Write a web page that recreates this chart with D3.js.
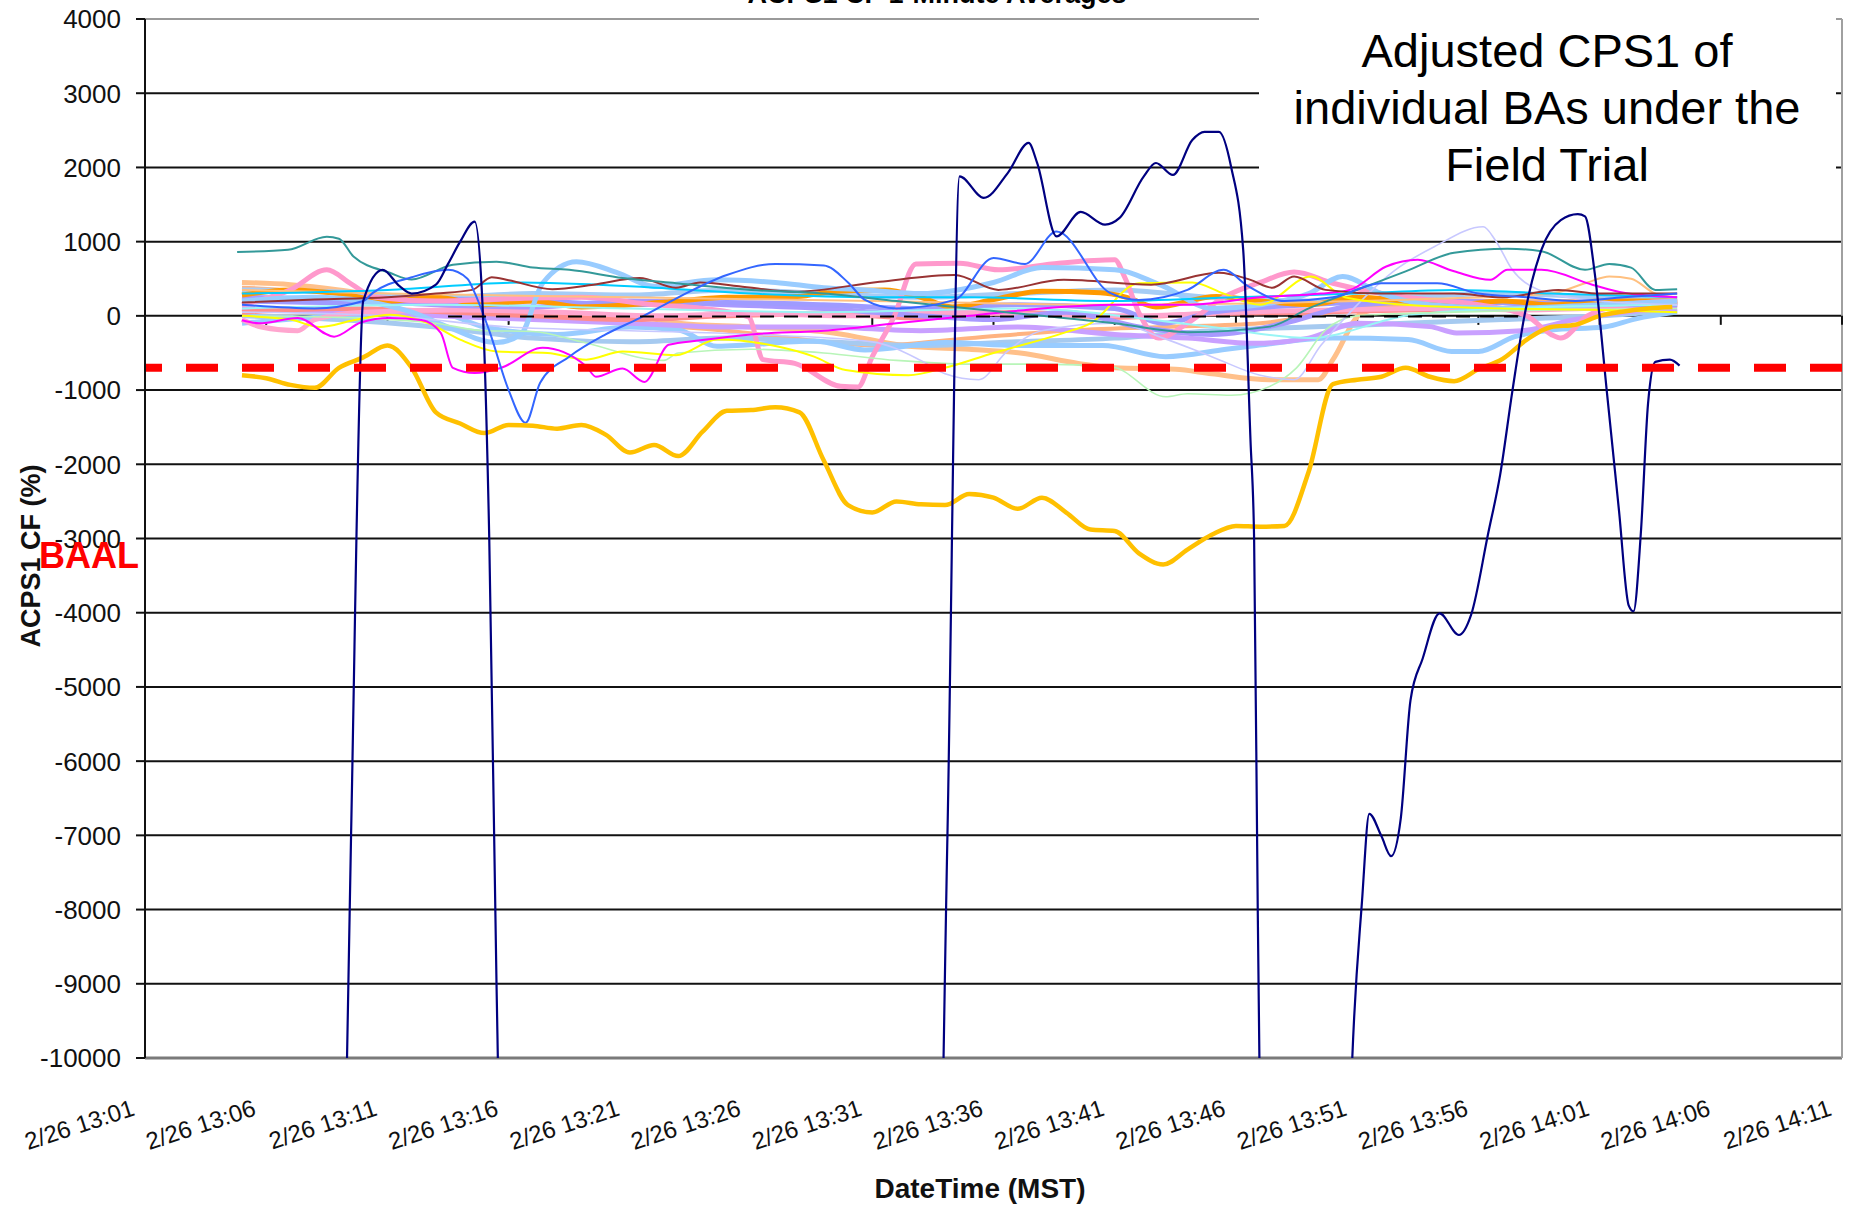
<!DOCTYPE html>
<html lang="en">
<head>
<meta charset="UTF-8">
<title>ACPS1 CF</title>
<style>
  body { margin: 0; background: #fff; }
  svg { display: block; font-family: "Liberation Sans", Arial, sans-serif; }
</style>
</head>
<body>
<svg id="svg" width="1860" height="1209"></svg>
<script src="https://d3js.org/d3.v7.min.js"></script>
<script>
// every series: [minutes after 13:00 on 2/26, ACPS1 CF %]
const navy = [[9,-16000],[9.5,-7000],[10,200],[10.8,620],[11.5,400],[12,300],[13,420],[13.5,700],[14,1000],[14.6,1270],[14.9,300],[15.2,-3000],[15.5,-9000],[16,-16000],
  [33.5,-16000],[34.1,-7000],[34.6,1880],[35.6,1590],[36.6,1930],[37.45,2330],[37.8,2060],[38.6,1070],[39.6,1400],[40.6,1230],[41.2,1320],[42.2,1880],[42.7,2060],[43.4,1900],[44.2,2370],[44.7,2480],[45.3,2480],[45.8,2010],[46.3,890],[46.6,-1670],[46.75,-3000],[46.9,-8000],[47.3,-16000],
  [50.3,-16000],[50.8,-10000],[51.2,-7890],[51.5,-6710],[52,-7010],[52.4,-7280],[52.8,-6770],[53.2,-5180],[53.7,-4620],[54.4,-4010],[55.2,-4300],[55.7,-4030],[56.4,-2940],[56.9,-2140],[57.4,-1020],[57.9,0],[58.6,890],[59.4,1290],[60.1,1370],[60.4,1340],[60.8,575],[61.3,-1020],[61.8,-2620],[62.2,-3900],[62.4,-3980],[62.7,-2940],[63,-1180],[63.3,-620],[63.9,-590],[64.3,-670]]

const gold = [[5,-800],[6,-840],[7,-930],[8,-970],[9,-700],[10,-560],[11,-400],[12,-700],[13,-1300],[14,-1450],[15,-1580],[16,-1470],[17,-1480],[18,-1520],[19,-1470],[20,-1600],[21,-1840],[22,-1740],[23,-1890],[24,-1560],[25,-1280],[26,-1270],[27,-1230],[28,-1300],[29,-1950],[30,-2550],[31,-2650],[32,-2500],[33,-2540],[34,-2550],[35,-2400],[36,-2450],[37,-2600],[38,-2450],[39,-2650],[40,-2880],[41,-2900],[42,-3200],[43,-3350],[44,-3150],[45,-2950],[46,-2830],[47,-2840],[48,-2830],[49,-2100],[50,-920],[51,-860],[52,-820],[53,-700],[54,-820],[55,-880],[56,-720],[57,-580],[58,-320],[59,-150],[60,-120],[61,0],[62,60],[63,100],[64,120]]

const royalBlue = [[5,150],[8,100],[10,200],[10.4,310],[12,520],[13.5,620],[14.3,500],[14.6,310],[15.2,-200],[16,-1000],[16.7,-1440],[17.3,-900],[18.5,-550],[20,-250],[21.4,-30],[23,250],[25,550],[27,700],[29,680],[30,450],[30.7,215],[32,100],[34.4,215],[36,780],[37.3,700],[38.6,1136],[40.8,310],[42,215],[44,350],[45.5,620],[46.5,400],[48,200],[50,250],[52,440],[54.3,440],[56,300],[58,250],[60,200],[62,250],[64.2,300]]
const teal = [[4.8,860],[6.9,890],[8.5,1065],[9,1040],[9.6,800],[11.1,580],[12,490],[13.7,690],[15.5,730],[17,650],[18.5,620],[20.7,510],[22.9,440],[26,350],[29,300],[32,200],[35,100],[38,0],[41,-100],[44,-220],[47.4,-145],[49,100],[51,350],[53,600],[55,850],[57.2,905],[58.6,870],[60.4,620],[61.4,700],[62.3,650],[63.3,350],[64.2,360]]
const maroon = [[5,180],[8,220],[11,250],[13,300],[14.5,350],[15.3,520],[16,480],[17.8,360],[19.5,420],[21.4,510],[22.9,380],[23.9,450],[25.5,400],[27.8,325],[31.3,460],[34.4,550],[36.2,350],[38.9,485],[42.5,420],[45.3,580],[46.6,485],[47.5,380],[48.4,530],[49.7,350],[52,300],[55,300],[57,250],[59.3,350],[61,300],[64.2,300]]
const magenta = [[5,-60],[5.7,-100],[7.3,-30],[8.8,-280],[9.9,-90],[11.1,-30],[12.4,-55],[13.2,-230],[13.7,-700],[14.6,-770],[15.7,-700],[17.4,-430],[19.2,-680],[19.6,-820],[20.7,-710],[21.6,-890],[22.6,-390],[23.9,-330],[26,-250],[29,-200],[32,-100],[35,0],[38,100],[41,150],[44,150],[47,250],[49.5,300],[50.7,350],[52.2,665],[53.5,755],[55,600],[56.5,485],[57.2,620],[58.6,620],[60.7,420],[62,310],[64.2,250]]
const pink = [[5,150],[7,350],[8.5,620],[9.5,430],[10.5,250],[13,200],[16,230],[19,250],[22,150],[24,100],[25.9,-15],[26.5,-590],[27.8,-640],[29.7,-950],[30.4,-960],[31,-550],[31.9,-10],[32.8,700],[34.6,710],[36.2,620],[38.7,710],[41,755],[41.4,530],[42,40],[42.8,-300],[44,-100],[45.5,250],[47,450],[48.4,590],[50,440],[53,250],[56,150],[58,0],[59,-250],[59.4,-300],[60.5,0],[62,150],[64.2,200]]
const pinkLow = [[5,-50],[5.8,-150],[7.3,-200],[8,-50],[10,50],[14,80],[18,50],[22,0],[26,30],[30,0],[34,50],[38,20],[42,0],[46,50],[50,80],[54,100],[58,80],[62,120],[64.2,150]]
const lightBlue1 = [[5,200],[8,250],[10,200],[12,50],[13.5,-150],[15.5,-360],[16.5,-250],[17.4,440],[18.8,730],[20.5,580],[22,400],[24.6,485],[27,450],[29,380],[30.7,350],[33,300],[36,450],[38,650],[41,620],[43,400],[45,100],[47,150],[49,300],[50.4,530],[52,300],[54,150],[57,100],[61,150],[64.2,200]]
const lightBlue2 = [[5,-100],[9,0],[13,50],[15,-150],[18,-250],[21,-150],[23,-190],[24.6,-410],[28.6,-340],[30.7,-460],[34,-360],[37,-400],[40.5,-400],[43.1,-550],[45.6,-450],[46.6,-410],[50,-300],[53.1,-320],[54.9,-480],[56,-480],[57.5,-280],[59,-190],[61.2,-150],[62.5,-40],[64.2,50]]
const lightBlue3 = [[5,0],[9,-50],[13,-150],[17,-300],[21,-350],[25,-300],[29,-350],[33,-400],[37,-350],[41,-300],[45,-200],[49,-150],[53,-100],[57,-50],[61,0],[64.2,80]]
const skyBlue = [[5,350],[9,320],[13,250],[17,300],[21,280],[25,350],[29,300],[33,250],[37,300],[41,350],[45,250],[49,200],[53,250],[57,300],[61,250],[64.2,200]]
const orange = [[5,280],[7,350],[9,300],[11,200],[13,250],[15,150],[17,200],[19,120],[21,150],[23,200],[25,250],[27.9,260],[29.5,330],[31.5,350],[33,250],[34.3,120],[36,220],[38,330],[40.4,310],[41.5,250],[42.7,120],[45.2,260],[47,200],[49,150],[51,250],[53,200],[55,150],[57,200],[59,150],[61,200],[64.2,200]]
const peach = [[5,450],[7,420],[9,350],[11,250],[13,200],[15,100],[17,50],[19,0],[21,0],[23,-100],[26,-150],[29.4,-230],[32.5,-410],[35,-450],[37.1,-500],[39.5,-640],[41,-700],[43.5,-720],[45,-780],[47.4,-860],[49.4,-860],[50,-590],[51.2,40],[53,150],[56,200],[59,150],[61,180],[64.2,150]]
const peach2 = [[5,380],[9,300],[13,150],[17,50],[21,-100],[25,-200],[29,-350],[31,-400],[35,-300],[39,-200],[43,-150],[47,-100],[51,100],[55,180],[59,200],[64.2,180]]
const peachThin = [[5,350],[11,300],[21,250],[31,200],[41,150],[51,200],[56,250],[59,300],[60.5,450],[61.4,530],[62.3,500],[63.3,300],[64.2,250]]
const lavender = [[5,50],[11,0],[16,-150],[21,-200],[26,-250],[31,-350],[33,-600],[34,-780],[35.4,-860],[36.5,-500],[38,-200],[41,-100],[43,-300],[45,-550],[47,-800],[48.4,-860],[49.5,-400],[50.8,80],[52.5,600],[54.2,935],[56.2,1200],[56.7,1020],[57.4,620],[58.5,350],[61,200],[64.2,150]]
const yellow = [[5,0],[7,-50],[8.2,-150],[9.6,-60],[11.1,15],[12.7,-100],[14,-320],[15.5,-480],[17.6,-500],[19.2,-590],[20.7,-480],[22.9,-530],[24.6,-320],[26.9,-400],[28.6,-550],[29.9,-730],[32.5,-800],[34,-700],[36,-500],[38.9,-230],[40,-100],[42,440],[44.2,450],[45.5,300],[47,150],[49.1,530],[50.5,250],[53,150],[57,100],[61,80],[64.2,50]]
const lightGreen = [[5,0],[9,-20],[13,-100],[15,-200],[17,-210],[19,-350],[22.4,-600],[23,-500],[26,-450],[29,-500],[32,-600],[35,-650],[38,-650],[40.9,-690],[43.1,-1090],[44,-1050],[45.8,-1070],[47.4,-950],[48.5,-700],[49.7,-190],[51,0],[55,50],[59,80],[64.2,100]]
const lightPurple = [[5,100],[9,50],[13,0],[17,-50],[21,-100],[25,-150],[29,-150],[33,-200],[37,-150],[41,-250],[44,-300],[46.8,-370],[49,-300],[51,-100],[54,-145],[55.1,-230],[57.8,-200],[60,-50],[62,50],[64.2,100]]
const periwinkle = [[5,200],[9,180],[13,220],[17,200],[21,150],[25,180],[29,150],[33,100],[37,150],[41,100],[43,-100],[45,50],[49,150],[53,200],[57,180],[61,150],[64.2,150]]
const periwinkle2 = [[5,250],[9,220],[13,150],[17,120],[21,200],[25,150],[29,100],[33,0],[36,-50],[39,50],[42,-150],[45,-250],[48,-100],[51,150],[55,200],[59,150],[64.2,180]]
const salmon = [[5,50],[9,100],[13,60],[17,0],[21,-50],[25,0],[29,30],[33,-30],[37,50],[41,-20],[45,30],[49,50],[53,80],[57,100],[61,120],[64.2,150]]
const cyan = [[5,300],[11,350],[16.6,450],[18,440],[21,400],[26,300],[31,250],[35,250],[41,200],[46,250],[51,300],[55,350],[59,300],[64.2,250]]
const lightCyan = [[5,100],[13,150],[21,100],[29,50],[37,100],[45,-150],[49,-300],[53,0],[57,100],[64.2,150]]
const zeroRef = [[13.5,-10],[58,-10]]

const yTicks = [4000,3000,2000,1000,0,-1000,-2000,-3000,-4000,-5000,-6000,-7000,-8000,-9000,-10000]
const xTicks = [1,6,11,16,21,26,31,36,41,46,51,56,61,66,71]
const xTickLabels = ['2/26 13:01','2/26 13:06','2/26 13:11','2/26 13:16','2/26 13:21','2/26 13:26','2/26 13:31','2/26 13:36','2/26 13:41','2/26 13:46','2/26 13:51','2/26 13:56','2/26 14:01','2/26 14:06','2/26 14:11']
const baal = -700
const noteLines = ['Adjusted CPS1 of', 'individual BAs under the', 'Field Trial']

const plotL = 145, plotR = 1842, plotT = 19, plotB = 1058
const base = new Date(2008, 1, 26, 13, 0)
const toDate = m => new Date(base.getTime() + m * 60000)

const x = d3.scaleTime().domain([toDate(1), toDate(71)]).range([plotL, plotR])
const y = d3.scaleLinear().domain([-10000, 4000]).range([plotB, plotT])

const svg = d3.select('#svg')

svg.append('defs').append('clipPath').attr('id', 'plot')
  .append('rect').attr('x', plotL).attr('y', plotT).attr('width', plotR - plotL).attr('height', plotB - plotT)

// chart title, mostly above the top edge as in the source
svg.append('text')
  .text('ACPS1 CF 1-Minute Averages')
  .attr('x', 937).attr('y', 3)
  .attr('text-anchor', 'middle')
  .style('font-size', '27px').style('font-weight', 'bold')

// gridlines
svg.append('g').selectAll('line')
  .data(yTicks.filter(d => d !== 4000 && d !== -10000))
  .join('line')
  .attr('x1', plotL).attr('x2', plotR)
  .attr('y1', d => y(d)).attr('y2', d => y(d))
  .attr('stroke', '#111').attr('stroke-width', 2)

svg.append('line').attr('x1', plotL).attr('x2', plotR).attr('y1', y(4000)).attr('y2', y(4000))
  .attr('stroke', '#9a9a9a').attr('stroke-width', 2)
svg.append('line').attr('x1', plotL).attr('x2', plotR).attr('y1', y(-10000)).attr('y2', y(-10000))
  .attr('stroke', '#7a7a7a').attr('stroke-width', 3)
svg.append('line').attr('x1', plotR).attr('x2', plotR).attr('y1', plotT).attr('y2', plotB)
  .attr('stroke', '#a0a0a0').attr('stroke-width', 2)

// white note box over the top right
svg.append('rect').attr('x', 1259).attr('y', 0).attr('width', 577).attr('height', 205).attr('fill', '#fff')

// category axis crosses at 0: small ticks down from it
svg.append('g').selectAll('line')
  .data(xTicks)
  .join('line')
  .attr('x1', d => x(toDate(d))).attr('x2', d => x(toDate(d)))
  .attr('y1', y(0)).attr('y2', y(0) + 9)
  .attr('stroke', '#111').attr('stroke-width', 2)

const line = d3.line()
  .x(d => x(toDate(d[0])))
  .y(d => y(d[1]))
  .curve(d3.curveMonotoneX)

const seriesList = [
  { data: peach, color: '#FFC08A', width: 5 },
  { data: peach2, color: '#FFB380', width: 4 },
  { data: lightBlue3, color: '#A6CAF0', width: 5 },
  { data: lightBlue2, color: '#99CCFF', width: 5 },
  { data: lightPurple, color: '#C9A0FF', width: 5 },
  { data: salmon, color: '#FF8C8C', width: 5 },
  { data: pinkLow, color: '#FFA6CF', width: 5 },
  { data: skyBlue, color: '#A6CCF5', width: 5 },
  { data: periwinkle2, color: '#A899FF', width: 5 },
  { data: periwinkle, color: '#9F9BFF', width: 5 },
  { data: orange, color: '#FF9900', width: 5 },
  { data: pink, color: '#FF99CC', width: 5 },
  { data: lightBlue1, color: '#99CCFF', width: 5 },
  { data: peachThin, color: '#FFC080', width: 2 },
  { data: lightCyan, color: '#99F5F5', width: 2 },
  { data: lightGreen, color: '#B8F5B8', width: 1.6 },
  { data: lavender, color: '#C8C8FF', width: 1.6 },
  { data: yellow, color: '#FFFF00', width: 2 },
  { data: cyan, color: '#00CCFF', width: 2 },
  { data: magenta, color: '#FF00FF', width: 2 },
  { data: maroon, color: '#993333', width: 2 },
  { data: teal, color: '#339999', width: 2 },
  { data: royalBlue, color: '#3366FF', width: 2 },
  { data: gold, color: '#FFC000', width: 4.5 },
  { data: navy, color: '#000080', width: 2.2 }
]

const plot = svg.append('g').attr('clip-path', 'url(#plot)')

plot.selectAll('path.series')
  .data(seriesList)
  .join('path')
  .attr('class', 'series')
  .attr('d', d => line(d.data))
  .attr('fill', 'none')
  .attr('stroke', d => d.color)
  .attr('stroke-width', d => d.width)
  .attr('stroke-linejoin', 'round')

plot.append('path')
  .attr('d', d3.line().x(d => x(toDate(d[0]))).y(d => y(d[1]))(zeroRef))
  .attr('fill', 'none').attr('stroke', '#000').attr('stroke-width', 2)
  .attr('stroke-dasharray', '14,10')

// BAAL line
svg.append('line')
  .attr('x1', plotL).attr('x2', plotR)
  .attr('y1', y(baal)).attr('y2', y(baal))
  .attr('stroke', '#FF0000').attr('stroke-width', 8)
  .attr('stroke-dasharray', '32,24').attr('stroke-dashoffset', 15)

// y axis
svg.append('line').attr('x1', plotL).attr('x2', plotL).attr('y1', plotT).attr('y2', plotB)
  .attr('stroke', '#111').attr('stroke-width', 2)

const yAxis = svg.append('g')
yAxis.selectAll('line')
  .data(yTicks)
  .join('line')
  .attr('x1', plotL - 9).attr('x2', plotL)
  .attr('y1', d => y(d)).attr('y2', d => y(d))
  .attr('stroke', '#111').attr('stroke-width', 2)
yAxis.selectAll('text')
  .data(yTicks)
  .join('text')
  .text(d => d)
  .attr('x', 121)
  .attr('y', d => y(d))
  .attr('dy', '0.36em')
  .attr('text-anchor', 'end')
  .style('font-size', '26px')
  .attr('fill', '#111')

// x labels, slanted
svg.append('g').selectAll('text')
  .data(xTicks)
  .join('text')
  .text((d, i) => xTickLabels[i])
  .attr('text-anchor', 'end')
  .attr('transform', d => `translate(${x(toDate(d)) - 9},1115) rotate(-18)`)
  .style('font-size', '24px')
  .attr('fill', '#111')

svg.append('text')
  .text('DateTime (MST)')
  .attr('x', 980).attr('y', 1198)
  .attr('text-anchor', 'middle')
  .style('font-size', '28px').style('font-weight', 'bold')
  .attr('fill', '#111')

svg.append('text')
  .text('ACPS1 CF (%)')
  .attr('transform', 'translate(40,556) rotate(-90)')
  .attr('text-anchor', 'middle')
  .style('font-size', '27px').style('font-weight', 'bold')
  .attr('fill', '#111')

svg.append('text')
  .text('BAAL')
  .attr('x', 39).attr('y', 568)
  .style('font-size', '36px').style('font-weight', 'bold')
  .attr('fill', '#FF0000')

svg.append('g').selectAll('text')
  .data(noteLines)
  .join('text')
  .text(d => d)
  .attr('x', 1547)
  .attr('y', (d, i) => 67 + i * 57)
  .attr('text-anchor', 'middle')
  .style('font-size', '47px')
  .attr('fill', '#000')
</script>
</body>
</html>
